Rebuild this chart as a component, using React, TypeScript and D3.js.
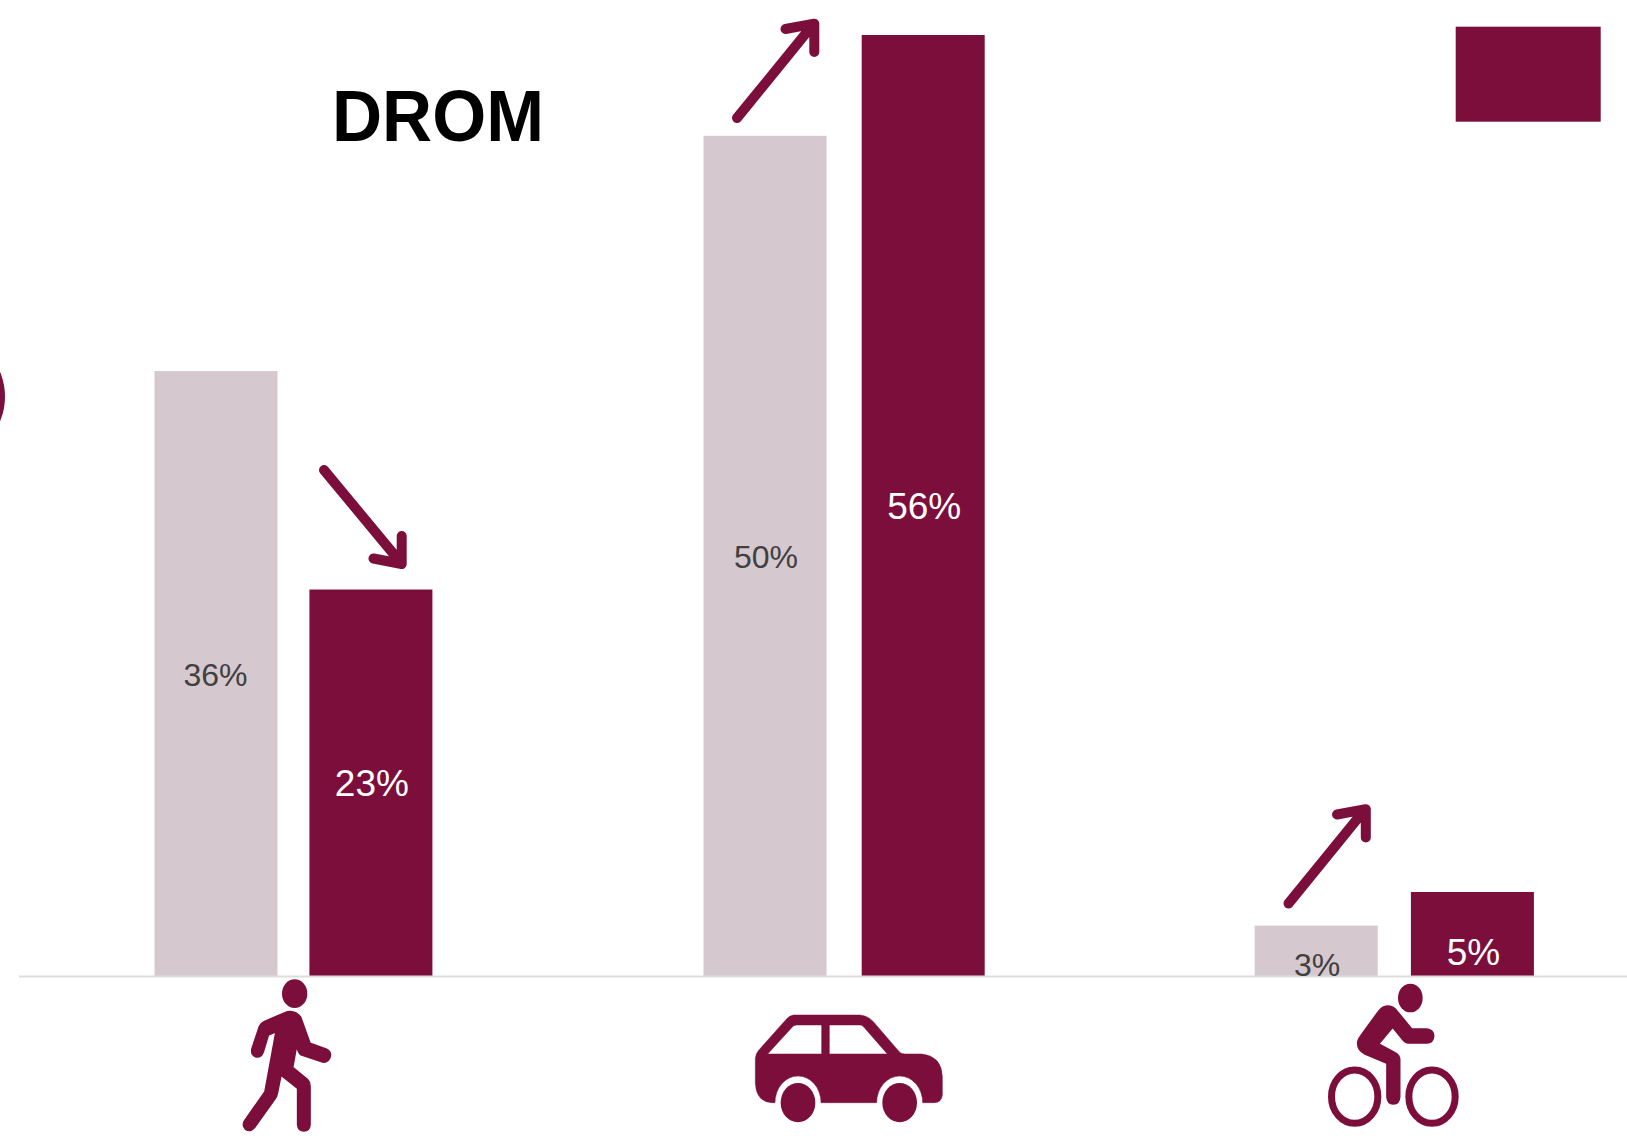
import React from "react";
import * as d3 from "d3";

// ---- data ----
const categories = ["Marche", "Voiture", "Vélo"];
const lightValues = [36, 50, 3];
const darkValues = [23, 56, 5];
const lightLabels = ["36%", "50%", "3%"];
const darkLabels = ["23%", "56%", "5%"];
const trends = ["down", "up", "up"];
const title = "DROM";

// ---- layout ----
const W = 1627;
const H = 1140;
const DARK = "#7b0e3b";
const LIGHT = "#d6c8cf";
const BAR_W = 123;
const FONT = "'Liberation Sans', Arial, sans-serif";

const y = d3.scaleLinear().domain([0, 56]).range([976, 35]);
const xLight = d3.scaleOrdinal<string, number>().domain(categories).range([216, 765, 1316.2]);
const xDark = d3.scaleOrdinal<string, number>().domain(categories).range([370.9, 923.2, 1472.4]);
const lightDy = [12.2, 12.5, 25];
const lightLabelDx = [-0.5, 1, 1];
const darkDy = [13, 13.5, 31.5];
const arrowX = d3.scaleOrdinal<string, number>().domain(categories).range([324, 737, 1288.5]);
const arrowY = d3.scaleOrdinal<string, number>().domain(categories).range([470, 118, 903.5]);

const arrowLine = d3.line();
const arrowUp = arrowLine([[0, 0], [76.8, -94.3]]) + arrowLine([[48.5, -89], [77.3, -94.3], [77.3, -66]]);
const arrowDown = arrowLine([[0, 0], [77.5, 93.5]]) + arrowLine([[49.5, 88.5], [77.7, 94], [77.7, 66]]);

// icons, traced at 3x and scaled back
const walker =
  "M270 155 Q290 155 302 172 L330 250 L378 267 Q393 274 391 288 Q386 308 368 306 L305 285 Q294 280 290 255 L278 322 L322 358 Q330 366 330 378 L330 495 Q328 513 312 513 Q295 513 293 495 L293 385 L243 345 L232 400 Q230 410 225 416 L163 503 Q150 517 137 508 Q125 496 134 482 L195 395 L228 215 L205 225 L190 275 Q184 292 170 291 Q152 288 156 266 L178 200 Q182 190 192 185 L255 158 Q262 155 270 155 Z";
const carBody =
  "M190 105 L390 105 Q415 108 430 125 L505 212 Q512 222 525 222 L575 222 Q635 228 637 290 L637 345 Q635 368 612 368 L578 368 A69 80 0 0 0 440 368 L273 368 A69 80 0 0 0 135 368 L125 368 Q78 365 76 310 L76 235 Q78 220 85 212 L165 122 Q175 108 190 105 Z " +
  "M113 222 L185 143 Q190 135 200 135 L275 135 L275 222 Z M298 135 L390 135 Q397 135 402 142 L472 222 L298 222 Z";
const biker =
  "M262 138 Q280 138 290 152 L335 207 L380 207 Q400 208 401 228 Q400 248 380 249 L325 249 Q315 249 305 235 L278 202 L236 252 L285 278 Q299 285 299 300 L299 410 Q298 431 280 432 Q262 431 261 410 L261 310 L195 282 Q172 270 173 248 Q174 238 182 228 L235 155 Q247 138 262 138 Z";

export default function App() {
  return (
    <svg
      width={W}
      height={H}
      viewBox={`0 0 ${W} ${H}`}
      style={{ position: "absolute", left: 0, top: 0, display: "block", background: "#fff" }}
    >
      {/* cut-off circle on the left edge */}
      <ellipse cx={-45} cy={396.5} rx={50} ry={57} fill={DARK} />

      {/* bars */}
      {categories.map((c, i) => (
        <g key={c}>
          <rect x={xLight(c) - BAR_W / 2} y={y(lightValues[i])} width={BAR_W} height={y(0) - y(lightValues[i])} fill={LIGHT} />
          <rect x={xDark(c) - BAR_W / 2} y={y(darkValues[i])} width={BAR_W} height={y(0) - y(darkValues[i])} fill={DARK} />
        </g>
      ))}

      {/* baseline */}
      <line x1={19} x2={W} y1={y(0) + 0.5} y2={y(0) + 0.5} stroke="#dddddd" strokeWidth={1.8} />

      {/* value labels */}
      {categories.map((c, i) => (
        <g key={c} fontFamily={FONT} textAnchor="middle">
          <text
            x={xLight(c) + lightLabelDx[i]}
            y={(y(lightValues[i]) + y(0)) / 2 + lightDy[i]}
            fontSize={32}
            fill="#404040"
          >
            {lightLabels[i]}
          </text>
          <text
            x={xDark(c) + 1}
            y={(y(darkValues[i]) + y(0)) / 2 + darkDy[i]}
            fontSize={37}
            fill="#ffffff"
          >
            {darkLabels[i]}
          </text>
        </g>
      ))}

      {/* trend arrows */}
      {categories.map((c, i) => (
        <path
          key={c}
          transform={`translate(${arrowX(c)},${arrowY(c)})`}
          d={trends[i] === "up" ? arrowUp : arrowDown}
          fill="none"
          stroke={DARK}
          strokeWidth={10}
          strokeLinecap="round"
          strokeLinejoin="round"
        />
      ))}

      {/* title */}
      <text
        x={332}
        y={140.7}
        fontFamily={FONT}
        fontWeight={700}
        fontSize={73}
        fill="#000"
        textLength={212}
        lengthAdjust="spacingAndGlyphs"
      >
        {title}
      </text>

      {/* legend swatch */}
      <rect x={1455.7} y={26.7} width={145} height={95} fill={DARK} />

      {/* walker */}
      <g transform="translate(200,960) scale(0.33333)" fill={DARK}>
        <ellipse cx={284} cy={101} rx={38} ry={43} />
        <path d={walker} stroke={DARK} strokeWidth={5} strokeLinejoin="round" />
      </g>

      {/* car */}
      <g transform="translate(730,980) scale(0.33333)" fill={DARK}>
        <path d={carBody} fillRule="evenodd" stroke={DARK} strokeWidth={1.5} />
        <ellipse cx={204} cy={368} rx={52} ry={59} />
        <ellipse cx={509} cy={368} rx={52} ry={59} />
      </g>

      {/* cyclist */}
      <g transform="translate(1300,960) scale(0.33333)" fill={DARK}>
        <ellipse cx={331} cy={114} rx={37} ry={43} />
        <path d={biker} stroke={DARK} strokeWidth={5} strokeLinejoin="round" />
        <ellipse cx={164} cy={410} rx={69.5} ry={80} fill="none" stroke={DARK} strokeWidth={21} />
        <ellipse cx={396} cy={410} rx={69.5} ry={80} fill="none" stroke={DARK} strokeWidth={21} />
      </g>
    </svg>
  );
}
